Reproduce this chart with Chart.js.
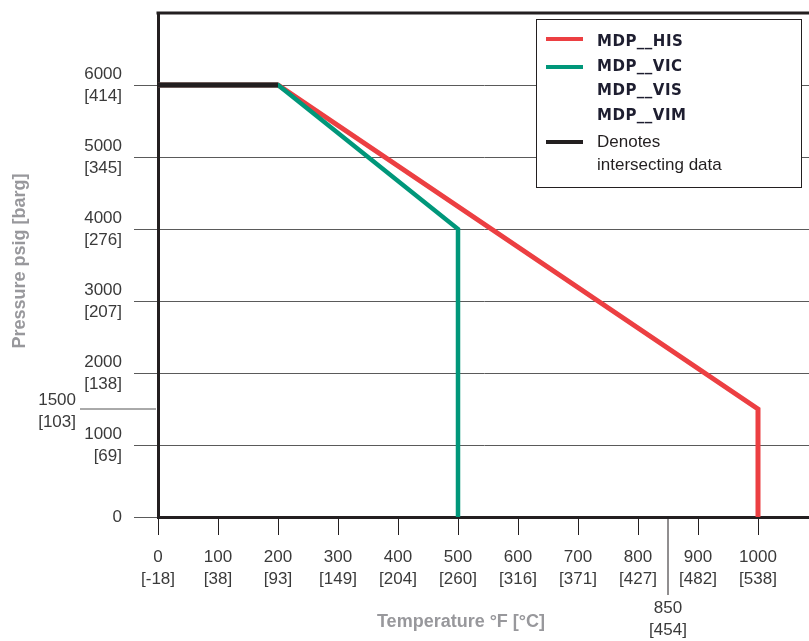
<!DOCTYPE html>
<html>
<head>
<meta charset="utf-8">
<script src="https://cdn.jsdelivr.net/npm/chart.js@4.4.1/dist/chart.umd.min.js"></script>
<style>
  body { margin: 0; background: #fff; }
  canvas { display: block; }
</style>
</head>
<body>
<canvas id="myChart" width="809" height="641"></canvas>
<script>
// datos
const hisTemp = [0, 200, 1000, 1000];
const hisPress = [6000, 6000, 1500, 0];
const vicTemp = [0, 200, 500, 500];
const vicPress = [6000, 6000, 4000, 0];
const sharedTemp = [0, 200];
const sharedPress = [6000, 6000];

const tempTicks = [0, 100, 200, 300, 400, 500, 600, 700, 800, 900, 1000];
const tempC = ['-18', '38', '93', '149', '204', '260', '316', '371', '427', '482', '538'];
const pressTicks = [0, 1000, 2000, 3000, 4000, 5000, 6000];
const pressBar = ['', '69', '138', '207', '276', '345', '414'];
const extraTemp = [850, '454'];
const extraPress = [1500, '103'];

const legendItems = ['MDP__HIS', 'MDP__VIC', 'MDP__VIS', 'MDP__VIM'];

const RED = '#ec3f42';
const GREEN = '#00977a';
const BLACK = '#231f20';
const TICKFONT = { family: 'Liberation Sans', size: 17, lineHeight: 22 / 17 };

function toPoints(xs, ys) {
    return xs.map((x, i) => ({ x: x, y: ys[i] }));
}

// dibujos extra: borde superior, 850, 1500, titulos y leyenda
const extras = {
    id: 'extras',
    afterDraw(chart) {
        const c = chart.ctx;
        const a = chart.chartArea;
        const xs = chart.scales.x;
        const ys = chart.scales.y;
        c.save();

        // borde superior
        c.strokeStyle = BLACK;
        c.lineWidth = 3;
        c.beginPath();
        c.moveTo(a.left - 1.5, a.top);
        c.lineTo(a.right, a.top);
        c.stroke();

        c.fillStyle = '#3a3a3a';
        c.font = '17px "Liberation Sans"';
        c.textAlign = 'center';
        c.textBaseline = 'middle';

        // tick 850
        const x850 = xs.getPixelForValue(extraTemp[0]);
        c.lineWidth = 1;
        c.beginPath();
        c.moveTo(x850, a.bottom);
        c.lineTo(x850, a.bottom + 78);
        c.stroke();
        c.fillText(String(extraTemp[0]), x850, a.bottom + 91);
        c.fillText('[' + extraTemp[1] + ']', x850, a.bottom + 113);

        // linea 1500
        const y1500 = ys.getPixelForValue(extraPress[0]);
        c.strokeStyle = '#555';
        c.beginPath();
        c.moveTo(80, y1500);
        c.lineTo(a.left - 2, y1500);
        c.stroke();
        c.textAlign = 'right';
        c.fillText(String(extraPress[0]), 76, y1500 - 9);
        c.fillText('[' + extraPress[1] + ']', 76, y1500 + 13);

        // titulos de ejes
        c.fillStyle = '#98989c';
        c.font = 'bold 18px "Liberation Sans"';
        c.textAlign = 'center';
        c.fillText('Temperature \u00b0F [\u00b0C]', 461, 622);
        c.save();
        c.translate(20, 261);
        c.rotate(-Math.PI / 2);
        c.fillText('Pressure psig [barg]', 0, 0);
        c.restore();

        // leyenda
        c.fillStyle = '#fff';
        c.fillRect(536, 19, 266, 169);
        c.strokeStyle = BLACK;
        c.lineWidth = 1;
        c.strokeRect(536.5, 19.5, 265, 168);

        const sw = [[RED, 39], [GREEN, 67], [BLACK, 142]];
        c.lineWidth = 4;
        sw.forEach(s => {
            c.strokeStyle = s[0];
            c.beginPath();
            c.moveTo(546, s[1]);
            c.lineTo(583, s[1]);
            c.stroke();
        });

        c.textAlign = 'left';
        c.fillStyle = '#1e1e30';
        c.font = 'bold 15px "DejaVu Sans"';
        c.letterSpacing = '0.5px';
        const rows = [42, 67, 91, 116];
        legendItems.forEach((t, i) => c.fillText(t, 597, rows[i]));
        c.letterSpacing = '0px';
        c.fillStyle = BLACK;
        c.font = '17px "Liberation Sans"';
        c.fillText('Denotes', 597, 142);
        c.fillText('intersecting data', 597, 165);

        c.restore();
    }
};

let ctx = document.getElementById('myChart').getContext('2d');
let chart = new Chart(ctx, {
    type: 'line',
    data: {
        datasets: [{
            label: 'MDP__HIS',
            data: toPoints(hisTemp, hisPress),
            borderColor: RED,
            borderWidth: 5,
            order: 2
        }, {
            label: 'MDP__VIC',
            data: toPoints(vicTemp, vicPress),
            borderColor: GREEN,
            borderWidth: 4.5,
            order: 1
        }, {
            label: 'Denotes intersecting data',
            data: toPoints(sharedTemp, sharedPress),
            borderColor: BLACK,
            borderWidth: 5,
            order: 0
        }]
    },
    options: {
        responsive: false,
        animation: false,
        events: [],
        elements: {
            point: { radius: 0 },
            line: { tension: 0, borderCapStyle: 'butt', borderJoinStyle: 'miter' }
        },
        layout: { padding: { top: 13, left: 0, right: 0, bottom: 0 } },
        plugins: {
            legend: { display: false },
            tooltip: { enabled: false }
        },
        scales: {
            x: {
                type: 'linear',
                min: 0,
                max: 1085,
                afterBuildTicks: s => { s.ticks = tempTicks.map(v => ({ value: v })); },
                afterFit: s => { s.height = 124; s.paddingLeft = 0; s.paddingRight = 0; },
                ticks: {
                    color: '#3a3a3a',
                    font: TICKFONT,
                    padding: 11,
                    maxRotation: 0,
                    callback: (v) => {
                        const i = tempTicks.indexOf(v);
                        return [String(v), '[' + tempC[i] + ']'];
                    }
                },
                grid: {
                    drawOnChartArea: false,
                    color: BLACK,
                    lineWidth: 1,
                    tickLength: 18
                },
                border: { color: BLACK, width: 3 }
            },
            y: {
                min: 0,
                max: 7000,
                afterBuildTicks: s => { s.ticks = pressTicks.map(v => ({ value: v })); },
                afterFit: s => { s.width = 158; s.paddingTop = 0; s.paddingBottom = 0; },
                ticks: {
                    color: '#3a3a3a',
                    font: TICKFONT,
                    padding: 12,
                    callback: (v) => {
                        const i = pressTicks.indexOf(v);
                        if (v === 0) return '0';
                        return [String(v), '[' + pressBar[i] + ']'];
                    }
                },
                grid: {
                    color: '#5a5a5a',
                    lineWidth: 1,
                    tickLength: 24
                },
                border: { color: BLACK, width: 3 }
            }
        }
    },
    plugins: [extras]
});
</script>
</body>
</html>
